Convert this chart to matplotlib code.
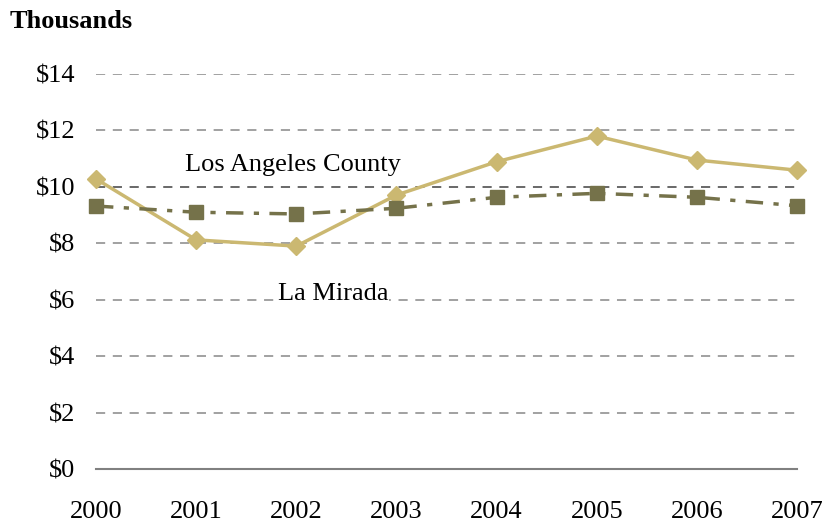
import matplotlib
matplotlib.use("Agg")
import matplotlib.pyplot as plt

years = [2000, 2001, 2002, 2003, 2004, 2005, 2006, 2007]
tan_vals = [10.28, 8.12, 7.90, 9.71, 10.89, 11.80, 10.95, 10.59]
olive_vals = [9.32, 9.10, 9.04, 9.24, 9.63, 9.77, 9.63, 9.33]
yticks = [0, 2, 4, 6, 8, 10, 12, 14]
ytick_labels = ["$" + str(v) for v in yticks]

TAN = "#CBB871"
OLIVE = "#75724A"
FS = 19

plt.rcParams["font.family"] = ["Liberation Serif", "DejaVu Serif"]

fig = plt.figure(figsize=(8.25, 5.23), dpi=100)
ax = fig.add_axes([0.1164, 0.1033, 0.8497, 0.7552])

for v in yticks[1:]:
    # the $10 gridline is drawn darker in the original
    c = "#404040" if v == 10 else "#888888"
    ax.axhline(v, color=c, lw=1.1, ls=(0, (6, 5)), zorder=1)

ax.plot(years, tan_vals, color=TAN, lw=2.5, marker="D", markersize=9,
        markeredgecolor=TAN, clip_on=False, zorder=3)
ax.plot(years, olive_vals, color=OLIVE, lw=2.5, ls=(0, (5, 3, 1.5, 3)),
        marker="s", markersize=9.5, markeredgecolor=OLIVE, clip_on=False, zorder=4)

ax.set_xlim(2000, 2007)
ax.set_ylim(0, 14)
ax.set_xticks(years)
ax.set_yticks(yticks)
ax.set_yticklabels(ytick_labels)
ax.tick_params(axis="both", length=0, labelsize=FS)
ax.tick_params(axis="y", pad=15)
ax.tick_params(axis="x", pad=23)

for s in ["top", "right", "left"]:
    ax.spines[s].set_visible(False)
ax.spines["bottom"].set_color("#808080")
ax.spines["bottom"].set_linewidth(1.5)

ax.text(2001.97, 10.76, "Los Angeles County", fontsize=FS, ha="center",
        va="center", zorder=5)
ax.text(2002.37, 6.2, "La Mirada", fontsize=FS, ha="center", va="center",
        zorder=5, bbox=dict(facecolor="white", edgecolor="none", pad=0.5))

fig.text(10 / 825, 1 - 22 / 523, "Thousands", fontsize=FS, fontweight="bold",
         ha="left", va="center")

fig.savefig("out.png", dpi=100)
